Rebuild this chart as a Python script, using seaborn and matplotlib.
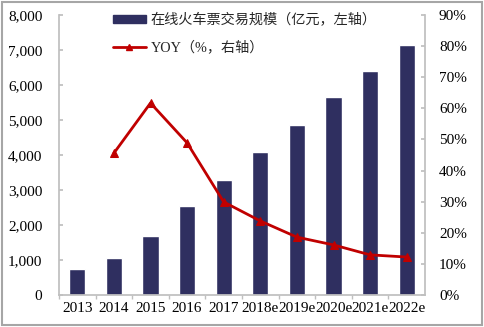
import matplotlib
matplotlib.use("Agg")
import matplotlib.pyplot as plt
import seaborn as sns
import numpy as np
import pandas as pd
from matplotlib.patches import Rectangle
from matplotlib.lines import Line2D
from matplotlib.ticker import FuncFormatter, MultipleLocator

years = ["2013", "2014", "2015", "2016", "2017", "2018e", "2019e", "2020e", "2021e", "2022e"]
scale = [730, 1050, 1700, 2540, 3300, 4100, 4860, 5650, 6400, 7150]
yoy = [np.nan, 45.6, 61.7, 48.9, 29.9, 23.8, 18.6, 16.1, 12.9, 12.2]
bar_label = "在线火车票交易规模（亿元，左轴）"
line_label = "YOY（%，右轴）"

sns.set_theme(style="white")
plt.rcParams['font.family'] = ['Liberation Serif', 'Noto Sans CJK SC', 'DejaVu Sans']

bar_color = "#2F2F60"
line_color = "#C00000"
spine_color = "#BFBFBF"

df = pd.DataFrame({"year": years, "scale": scale, "yoy": yoy, "pos": np.arange(len(years))})

fig = plt.figure(figsize=(4.84, 3.27), dpi=100)
ax = fig.add_axes([59/484, 1-295/327, (425-59)/484, (295-15)/327])

sns.barplot(data=df, x="year", y="scale", color=bar_color, width=0.44,
            saturation=1, ax=ax, order=years)
ax.set_ylim(0, 8000)
ax.set_xlim(-0.5, len(years) - 0.5)
ax.yaxis.set_major_locator(MultipleLocator(1000))
ax.yaxis.set_major_formatter(FuncFormatter(lambda v, p: f"{int(v):,}"))
ax.set_xlabel("")
ax.set_ylabel("")

ax2 = ax.twinx()
d2 = df.dropna(subset=["yoy"])
sns.lineplot(data=d2, x="pos", y="yoy", color=line_color, linewidth=2,
             marker="^", markersize=6, markeredgecolor=line_color, ax=ax2)
ax2.set_ylim(0, 90)
ax2.yaxis.set_major_locator(MultipleLocator(10))
ax2.yaxis.set_major_formatter(FuncFormatter(lambda v, p: f"{int(v)}%"))
ax2.set_xlabel("")
ax2.set_ylabel("")
ax.set_xlim(-0.5, len(years) - 0.5)

for a in (ax, ax2):
    for s in a.spines.values():
        s.set_visible(False)
ax.spines["left"].set_visible(True)
ax.spines["left"].set_color(spine_color)
ax.spines["bottom"].set_visible(True)
ax.spines["bottom"].set_color(spine_color)
ax2.spines["right"].set_visible(True)
ax2.spines["right"].set_color(spine_color)

ax.tick_params(axis="y", direction="in", length=3, color=spine_color, labelsize=11,
               labelcolor="black", pad=12, left=True)
ax.tick_params(axis="x", length=0, labelsize=11, labelcolor="black", pad=5)
ax2.tick_params(axis="y", direction="in", length=3, color=spine_color, labelsize=11,
                labelcolor="black", pad=10, right=True)
ax.set_xticks(np.arange(len(years)) - 0.5, minor=True)
ax.tick_params(axis="x", which="minor", direction="out", length=3, color=spine_color, bottom=True)

handles = [Rectangle((0, 0), 1, 1, color=bar_color),
           Line2D([0], [0], color=line_color, lw=2, marker="^", markersize=4)]
leg = fig.legend(handles, [bar_label, line_label], loc="upper left",
                 bbox_to_anchor=(113/484, 1-13/327), frameon=False,
                 prop={"family": ['Liberation Serif', 'Noto Sans CJK SC'], "size": 10.2},
                 handlelength=2.3, handleheight=0.5, handletextpad=0.35,
                 labelspacing=0.95, borderaxespad=0, borderpad=0)

fig.patches.append(Rectangle((2/484, 2/327), 1-4/484, 1-4/327, transform=fig.transFigure,
                             fill=False, edgecolor="#A6A6A6", lw=1.5))

fig.savefig("out.png", dpi=100)
